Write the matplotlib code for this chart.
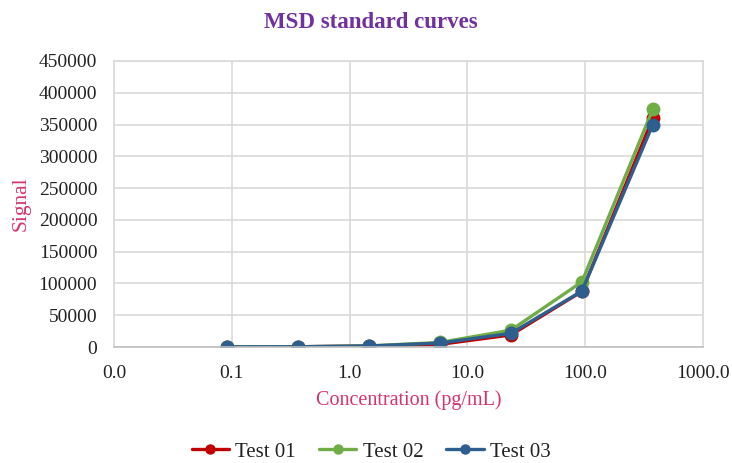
import numpy as np
import matplotlib.pyplot as plt
from matplotlib.ticker import FuncFormatter, LogLocator, NullLocator

# 4-fold dilution series (pg/mL) and MSD signal for three runs
conc = [0.0916, 0.366, 1.46, 5.86, 23.4, 93.75, 375.0]
test01 = [100, 380, 1500, 4200, 19000, 87500, 360000]
test02 = [120, 450, 1700, 7200, 26500, 102500, 374000]
test03 = [110, 420, 1650, 6200, 21500, 88000, 350000]

series = [("Test 01", test01, "#C00000"),
          ("Test 02", test02, "#70AD47"),
          ("Test 03", test03, "#2E5E8E")]

serif = ["Liberation Serif", "DejaVu Serif"]

fig = plt.figure(figsize=(7.32, 4.63), dpi=100)
ax = fig.add_axes([0.1557, 0.2505, 0.8047, 0.6178])

for name, vals, col in series:
    ax.plot(conc, vals, color=col, lw=2.4, marker="o", ms=9, label=name,
            solid_capstyle="round")

ax.set_xscale("log")
ax.set_xlim(0.01, 1000)
ax.set_ylim(0, 450000)
ax.set_yticks(np.arange(0, 450001, 50000))
ax.xaxis.set_major_locator(LogLocator(base=10, numticks=10))
ax.xaxis.set_minor_locator(NullLocator())
ax.xaxis.set_major_formatter(FuncFormatter(lambda v, p: f"{v:.1f}"))
ax.yaxis.set_major_formatter(FuncFormatter(lambda v, p: f"{int(v)}"))

ax.grid(True, color="#D9D9D9", lw=1.2)
ax.set_axisbelow(True)
for s in ax.spines.values():
    s.set_color("#D9D9D9")
    s.set_linewidth(1.2)
ax.spines["bottom"].set_color("#BFBFBF")
ax.tick_params(length=0, labelsize=14, colors="#222222")
ax.tick_params(axis="y", pad=12)
ax.tick_params(axis="x", pad=13)
for lab in ax.get_xticklabels() + ax.get_yticklabels():
    lab.set_family(serif)

fig.text(0.506, 0.952, "MSD standard curves", ha="center", va="center",
         family=serif, fontsize=16.5, fontweight="bold", color="#7030A0")
ax.set_xlabel("Concentration (pg/mL)", family=serif, fontsize=14.5,
              color="#D6336C", labelpad=6)
ax.set_ylabel("Signal", family=serif, fontsize=15.5, color="#D6336C",
              labelpad=6)

leg = fig.legend(loc="center", bbox_to_anchor=(0.507, 0.024), ncol=3,
                 frameon=False, handlelength=1.8, handletextpad=0.3,
                 columnspacing=1.1, prop={"family": serif, "size": 15})
for h in leg.legend_handles:
    h.set_markersize(6.5)
for t in leg.get_texts():
    t.set_color("#222222")

fig.savefig("out.png", dpi=100)
